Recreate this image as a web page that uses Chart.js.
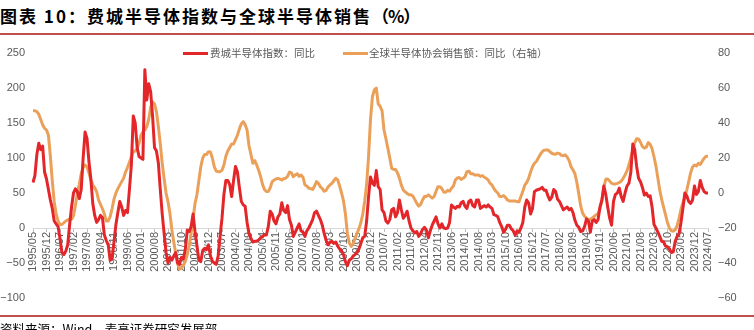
<!DOCTYPE html>
<html><head><meta charset="utf-8">
<script src="https://cdn.jsdelivr.net/npm/chart.js@4.4.1/dist/chart.umd.min.js"></script>
<style>
html,body{margin:0;padding:0;background:#fff;width:754px;height:330px;overflow:hidden;}
body{position:relative;font-family:"Noto Sans CJK SC",sans-serif;}
#title{position:absolute;left:0;top:5px;font-size:17px;font-weight:bold;letter-spacing:2px;line-height:22px;color:#000;white-space:nowrap;}
#title .p{letter-spacing:-1px;}
.rule{position:absolute;left:0;width:754px;height:2px;background:#c0504d;}
#c{position:absolute;left:0;top:0;}
.item{position:absolute;top:46px;height:14px;line-height:14px;font-size:10.5px;color:#595959;white-space:nowrap;}
.sw{position:absolute;top:52px;width:25px;height:3px;}
#footer{position:absolute;left:0;top:322px;font-size:12.5px;line-height:14px;color:#000;white-space:nowrap;letter-spacing:0px;}
</style></head>
<body>
<div id="title">图表 10：费城半导体指数与全球半导体销售<span class="p">（%）</span></div>
<div class="rule" style="top:33px"></div>
<canvas id="c" width="754" height="330" style="width:754px;height:330px"></canvas>
<div class="sw" style="left:183px;background:#e3262a"></div>
<div class="item" style="left:210px">费城半导体指数：同比</div>
<div class="sw" style="left:343px;background:#eba05a"></div>
<div class="item" style="left:369px">全球半导体协会销售额：同比（右轴）</div>
<div class="rule" style="top:315px"></div>
<div id="footer">资料来源：Wind，麦高证券研究发展部</div>
<script>
// monthly categories 1995/05 .. 2024/07
const categories = [];
for (let y = 1995, m = 5; !(y === 2024 && m > 7);) {
  categories.push(y + '/' + String(m).padStart(2, '0'));
  m++; if (m > 12) { m = 1; y++; }
}
const tickEvery = 7;

// 费城半导体指数：同比 (left axis, %)
const soxYoY = [
65,75,105,121,112,117,80,70,55,40,28,10,6,2,-15,-35,-38,-33,-24,5,
30,50,56,52,42,55,100,137,128,95,70,35,18,8,12,18,15,-10,-18,-24,
-46,-44,-20,5,22,38,30,18,25,22,55,90,160,150,115,102,100,98,226,183,
206,195,160,115,110,93,55,20,-8,-35,-50,-42,-46,-40,-35,-50,-52,-42,-44,-30,
-3,-5,2,20,-5,-25,-46,-48,-32,-29,-31,-24,-40,-47,-50,-52,-40,-12,14,48,
68,68,62,45,68,88,80,58,38,33,31,8,-8,-15,-20,-19,-19,-17,-14,-12,
-10,-10,2,24,20,10,6,16,20,36,25,22,32,12,4,-12,-6,0,6,-4,
-6,-12,-4,0,6,12,22,24,18,12,4,-8,-18,-24,-20,-19,-22,-20,-26,-30,
-33,-38,-48,-54,-46,-44,-40,-38,-35,-30,-22,-14,-12,10,45,73,64,61,82,59,
55,26,22,10,7,12,26,28,16,22,40,26,14,18,24,10,0,-4,-7,-5,
-12,-8,-2,1,-3,-14,-4,4,10,16,6,0,6,0,-1,0,8,33,30,28,
31,30,36,38,31,28,38,40,32,30,40,40,28,30,32,30,33,30,28,19,
18,16,8,2,-6,-2,4,4,-1,-4,-10,-4,-6,0,8,30,40,36,20,28,
52,54,55,56,58,54,54,46,40,44,55,52,41,38,32,26,28,30,26,28,
22,11,4,1,-5,-4,2,13,10,-6,10,12,8,12,30,40,60,48,30,14,
4,38,48,50,57,45,38,50,60,64,80,120,112,88,71,66,58,47,50,45,
46,30,5,0,-6,-12,-19,-20,-26,-27,-30,-35,-34,-19,-12,-8,8,28,50,46,
38,35,40,60,48,52,68,58,52,50,50
];

// 全球半导体协会销售额：同比 (right axis, %)
const siaYoY = [
47,47,46.5,45,42,39,37,36,33,21,7,-5,-12,-16,-18,-18,-17,-16,-15.4,-15,
-15,-13,-7,0,5,11,14.5,16,15,11.5,7.5,4.5,3,0.8,-4,-6.5,-9,-12,-16,-16,
-13.5,-9,-3.5,0,2.5,4.5,6.5,8.5,12,14.5,17.5,20.5,23.6,24,25.5,28.5,33,35,36,38,
42,49,52,51,46.5,38,28,17,8,0,-5,-11.6,-21,-28,-34.5,-40.5,-43.5,-43,-41.3,-39,
-35,-30,-23,-15,-6,-1,7,15,20,22,22,23.6,23.5,20,15,12.5,12.2,12.2,13,16,
21,24,26,28,28,30.5,33,36.5,39.5,40.8,39,36,27,22,17,18.5,16,13,9.5,5,
2,0.8,0.8,3,6.5,7.4,8,8.4,8,7.4,8.2,8.4,9.5,12,11.5,9.3,10.3,11,9.5,10.3,
9,4.6,4,2.7,2.5,2,4,6.5,5.5,3.6,2.5,1,1.5,3.5,4.6,5.5,7,8.4,7.5,4,
0,-4.5,-12,-23,-28.5,-30.5,-29,-26,-23,-20.5,-17,-12,-4.5,5,21,42,55,59,60,51,
49.5,47,36,31,25.5,20,14,13.5,13.5,11.5,8.5,4.5,1.7,0.6,-0.3,-1,-1,-1.8,-3.8,-5.9,
-7.5,-6.5,-4,-2,-2,-1,-2,-3,-2,1,3.6,3.6,2.5,0.5,0.5,1.5,1,2.7,4,7.4,
8.6,8.8,7.8,8.4,9.3,12.2,12.5,11,11,10.3,10.3,10.3,9.5,10,9,8.4,7.5,5.5,4.6,2.5,
1,0,-2,-2,-1.5,-2.5,-4,-4.5,-4.5,-4.5,-4.5,-5,-5,-2,1,4.5,6,8.4,12,15,
17,18,20,22,23.5,24.5,24.6,24.6,23.6,22.7,22.3,22.2,22.8,22.5,21.5,21.3,21.8,20.5,18.5,15,
13.2,11,6,-0.5,-7.5,-11.5,-13.3,-14.4,-15.4,-15,-14.3,-13.3,-12.5,-11.8,-8.7,-4,3.5,7.8,8,6.8,
5.5,5.2,5.2,5.5,6,6.8,8.4,10.3,12.6,16,20.3,24.5,28.6,31,30.8,29,26.5,25.7,26.2,28.8,
27.8,25.3,20.7,15.4,8.5,1.5,-3.8,-8.2,-12.5,-17,-20,-21.6,-21.8,-21,-18.6,-14.5,-9.3,-5.5,-2.5,1.7,
6.5,11.5,14.8,16,15.4,17,16.3,18.2,19.8,21,21
];

const leftTicks = {min: -100, max: 250, step: 50};
const rightTicks = {min: -60, max: 80, step: 20};

const fmt = v => (v < 0 ? '\u2212' + Math.abs(v) : String(v));
const tickFont = {family: '"Liberation Sans", Arial, sans-serif', size: 11};

new Chart(document.getElementById('c'), {
  type: 'line',
  data: {
    labels: categories,
    datasets: [
      {label: '费城半导体指数：同比', data: soxYoY, yAxisID: 'y', borderColor: '#e3262a',
       borderWidth: 3, pointRadius: 0, tension: 0, fill: false, borderJoinStyle: 'round'},
      {label: '全球半导体协会销售额：同比（右轴）', data: siaYoY, yAxisID: 'y1', borderColor: '#eba05a',
       borderWidth: 3, pointRadius: 0, tension: 0, fill: false, borderJoinStyle: 'round'}
    ]
  },
  options: {
    responsive: false, animation: false,
    layout: {padding: {top: 53, bottom: 32, left: 0, right: 0}},
    plugins: {legend: {display: false}, tooltip: {enabled: false}},
    scales: {
      x: {
        position: {y: 0}, offset: false,
        afterFit: s => { s.height = 0; },
        grid: {drawOnChartArea: false, drawTicks: true, tickLength: 3,
               tickColor: c => (c.index % tickEvery === 0 ? '#bfbfbf' : 'rgba(0,0,0,0)')},
        border: {display: true, color: '#d9d9d9', width: 1},
        ticks: {autoSkip: false, minRotation: 90, maxRotation: 90, padding: 1, color: '#595959', font: tickFont,
                callback: (v, i) => (i % tickEvery === 0 ? categories[i] : '')}
      },
      y: {
        position: 'left', min: leftTicks.min, max: leftTicks.max,
        afterFit: s => { s.width = 33; },
        grid: {display: false, drawTicks: false}, border: {display: false},
        ticks: {stepSize: leftTicks.step, padding: 8, color: '#595959', font: tickFont, callback: v => fmt(v)}
      },
      y1: {
        position: 'right', min: rightTicks.min, max: rightTicks.max,
        afterFit: s => { s.width = 46; },
        grid: {display: false, drawTicks: false}, border: {display: false},
        ticks: {stepSize: rightTicks.step, padding: 10, color: '#595959', font: tickFont, callback: v => fmt(v)}
      }
    }
  }
});
</script>
</body></html>
